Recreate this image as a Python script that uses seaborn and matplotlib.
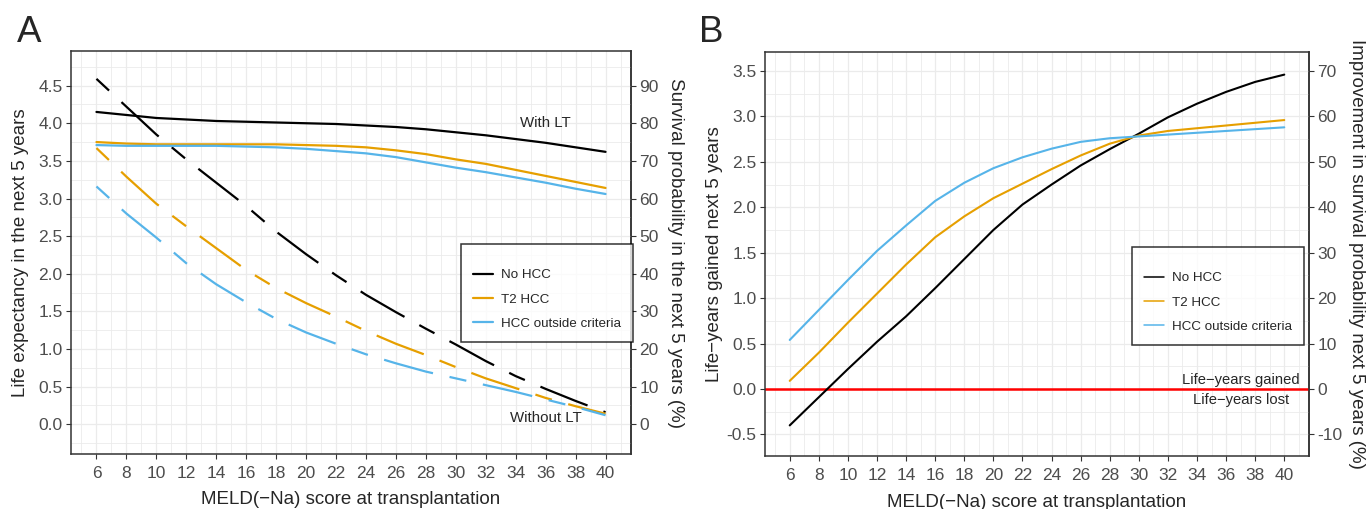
import pandas as pd
import matplotlib
matplotlib.use('Agg')
import matplotlib.pyplot as plt
from matplotlib.ticker import MultipleLocator
from matplotlib.lines import Line2D
import seaborn as sns

# MELD(-Na) score grid
meld = [6, 8, 10, 12, 14, 16, 18, 20, 22, 24, 26, 28, 30, 32, 34, 36, 38, 40]
groups = ['No HCC', 'T2 HCC', 'HCC outside criteria']
colors = ['#000000', '#E69F00', '#56B4E9']

# Panel A: life expectancy in the next 5 years, with liver transplant
with_lt_nohcc = [4.15, 4.11, 4.07, 4.05, 4.03, 4.02, 4.01, 4.00, 3.99, 3.97, 3.95, 3.92, 3.88, 3.84, 3.79, 3.74, 3.68, 3.62]
with_lt_t2 = [3.75, 3.73, 3.72, 3.72, 3.72, 3.72, 3.72, 3.71, 3.70, 3.68, 3.64, 3.59, 3.52, 3.46, 3.38, 3.30, 3.22, 3.14]
with_lt_out = [3.71, 3.70, 3.70, 3.70, 3.70, 3.69, 3.68, 3.66, 3.63, 3.60, 3.55, 3.48, 3.41, 3.35, 3.28, 3.21, 3.13, 3.06]

# Panel A: without liver transplant
without_lt_nohcc = [4.59, 4.22, 3.85, 3.52, 3.21, 2.90, 2.56, 2.26, 1.98, 1.72, 1.49, 1.27, 1.06, 0.84, 0.64, 0.47, 0.31, 0.16]
without_lt_t2 = [3.67, 3.29, 2.93, 2.63, 2.34, 2.05, 1.81, 1.61, 1.43, 1.24, 1.07, 0.92, 0.76, 0.61, 0.48, 0.35, 0.24, 0.14]
without_lt_out = [3.16, 2.80, 2.48, 2.14, 1.86, 1.62, 1.40, 1.22, 1.07, 0.93, 0.81, 0.70, 0.61, 0.52, 0.43, 0.33, 0.23, 0.12]

# Panel B: life-years gained next 5 years
gain_nohcc = [-0.40, -0.09, 0.22, 0.52, 0.80, 1.11, 1.43, 1.75, 2.03, 2.25, 2.46, 2.64, 2.81, 2.99, 3.14, 3.27, 3.38, 3.46]
gain_t2 = [0.09, 0.40, 0.73, 1.05, 1.37, 1.67, 1.90, 2.10, 2.26, 2.42, 2.57, 2.70, 2.79, 2.84, 2.87, 2.90, 2.93, 2.96]
gain_out = [0.54, 0.87, 1.20, 1.52, 1.80, 2.07, 2.27, 2.43, 2.55, 2.645, 2.72, 2.76, 2.78, 2.80, 2.82, 2.84, 2.86, 2.88]

rows = []
for g, w, wo in zip(groups, [with_lt_nohcc, with_lt_t2, with_lt_out],
                    [without_lt_nohcc, without_lt_t2, without_lt_out]):
    for m, a, b in zip(meld, w, wo):
        rows.append({'meld': m, 'group': g, 'lt': 'With LT', 'years': a})
        rows.append({'meld': m, 'group': g, 'lt': 'Without LT', 'years': b})
df_a = pd.DataFrame(rows)

rows = []
for g, v in zip(groups, [gain_nohcc, gain_t2, gain_out]):
    for m, y in zip(meld, v):
        rows.append({'meld': m, 'group': g, 'gain': y})
df_b = pd.DataFrame(rows)

sns.set_theme(style='white')
plt.rcParams['font.family'] = ['Liberation Sans', 'DejaVu Sans']
plt.rcParams['axes.unicode_minus'] = False

palette = dict(zip(groups, colors))
grid_col = '#EBEBEB'
spine_col = '#333333'
tick_col = '#4D4D4D'

fig = plt.figure(figsize=(13.71, 5.09), dpi=100)
ax_a = fig.add_axes([71 / 1371, 1 - 454 / 509, 560 / 1371, 403 / 509])
ax_b = fig.add_axes([765 / 1371, 1 - 456 / 509, 544 / 1371, 404 / 509])


def style_axis(ax, sec):
    ax.xaxis.set_major_locator(MultipleLocator(2))
    ax.xaxis.set_minor_locator(MultipleLocator(1))
    ax.yaxis.set_major_locator(MultipleLocator(0.5))
    ax.yaxis.set_minor_locator(MultipleLocator(0.25))
    ax.grid(which='major', color=grid_col, lw=0.9)
    ax.grid(which='minor', color=grid_col, lw=0.6)
    ax.set_axisbelow(True)
    for s in ax.spines.values():
        s.set_color(spine_col)
        s.set_linewidth(1.1)
    ax.tick_params(which='major', length=3.5, width=0.8, color=spine_col,
                   labelcolor=tick_col, labelsize=12.5, bottom=True, left=True)
    ax.tick_params(axis='x', pad=5.5)
    ax.tick_params(axis='y', pad=2.5)
    ax.tick_params(which='minor', length=0)
    ax.set_xlim(4.3, 41.7)
    sec.tick_params(length=3.5, width=0.8, color=spine_col, labelcolor=tick_col,
                    labelsize=12.5, pad=2.5)
    sec.spines['right'].set_color(spine_col)
    sec.spines['right'].set_linewidth(1.1)


def add_legend(ax, lw, anchor):
    handles = [Line2D([], [], color=c, lw=lw) for c in colors]
    leg = ax.legend(handles, groups, loc='upper left', bbox_to_anchor=anchor,
                    borderaxespad=0, fontsize=9.6, frameon=True, fancybox=False,
                    edgecolor='black', borderpad=0.9, labelspacing=0.9,
                    handlelength=1.45, handletextpad=0.6,
                    title=' ', title_fontsize=1)
    leg.get_frame().set_linewidth(1.1)
    return leg


# Panel A
twodash = (12.4 / 1.6, 12.2 / 1.6, 36.5 / 1.6, 12.2 / 1.6)
sns.lineplot(data=df_a, x='meld', y='years', hue='group', style='lt',
             palette=palette, dashes={'With LT': '', 'Without LT': twodash},
             linewidth=1.6, legend=False, ax=ax_a)
ax_a.set_ylim(-0.395, 4.96)
sec_a = ax_a.secondary_yaxis('right', functions=(lambda y: y * 20, lambda p: p / 20))
sec_a.set_yticks(range(0, 100, 10))
style_axis(ax_a, sec_a)
ax_a.set_yticks([0, 0.5, 1, 1.5, 2, 2.5, 3, 3.5, 4, 4.5])
ax_a.set_yticklabels(['0.0', '0.5', '1.0', '1.5', '2.0', '2.5', '3.0', '3.5', '4.0', '4.5'])
ax_a.set_xticks(meld)
ax_a.set_xlabel('MELD(\u2212Na) score at transplantation', fontsize=13.5, va='center')
ax_a.set_ylabel('Life expectancy in the next 5 years', fontsize=13.5, va='center')
ax_a.xaxis.set_label_coords(0.5, -0.114)
ax_a.yaxis.set_label_coords(-0.091, 0.5)
sec_a.set_ylabel('Survival probability in the next 5 years (%)', fontsize=13.5,
                 rotation=270, va='bottom', labelpad=6)
ax_a.text(36, 4.0, 'With LT', fontsize=10.8, ha='center', va='center')
ax_a.text(36, 0.09, 'Without LT', fontsize=10.8, ha='center', va='center')
add_legend(ax_a, 1.6, (0.697, 0.521))

# Panel B
ax_b.axhline(0, color='#FF0000', lw=1.8, zorder=1.5)
sns.lineplot(data=df_b, x='meld', y='gain', hue='group', palette=palette,
             linewidth=1.5, legend=False, ax=ax_b)
ax_b.set_ylim(-0.737, 3.709)
sec_b = ax_b.secondary_yaxis('right', functions=(lambda y: y * 20, lambda p: p / 20))
sec_b.set_yticks(range(-10, 80, 10))
style_axis(ax_b, sec_b)
ax_b.set_yticks([-0.5, 0, 0.5, 1, 1.5, 2, 2.5, 3, 3.5])
ax_b.set_yticklabels(['-0.5', '0.0', '0.5', '1.0', '1.5', '2.0', '2.5', '3.0', '3.5'])
ax_b.set_xticks(meld)
ax_b.set_xlabel('MELD(\u2212Na) score at transplantation', fontsize=13.5, va='center')
ax_b.set_ylabel('Life\u2212years gained next 5 years', fontsize=13.5, va='center')
ax_b.xaxis.set_label_coords(0.5, -0.114)
ax_b.yaxis.set_label_coords(-0.092, 0.5)
sec_b.set_ylabel('Improvement in survival probability next 5 years (%)', fontsize=13.5,
                 rotation=270, va='bottom', labelpad=4)
ax_b.text(37, 0.1, 'Life\u2212years gained', fontsize=10.6, ha='center', va='center')
ax_b.text(37, -0.12, 'Life\u2212years lost', fontsize=10.6, ha='center', va='center')
add_legend(ax_b, 1.1, (0.675, 0.517))

# panel letters
fig.text(29 / 1371, 1 - 42.3 / 509, 'A', fontsize=26.5, ha='center', va='baseline')
fig.text(711 / 1371, 1 - 42.3 / 509, 'B', fontsize=26.5, ha='center', va='baseline')

fig.savefig('out.png', dpi=100)
